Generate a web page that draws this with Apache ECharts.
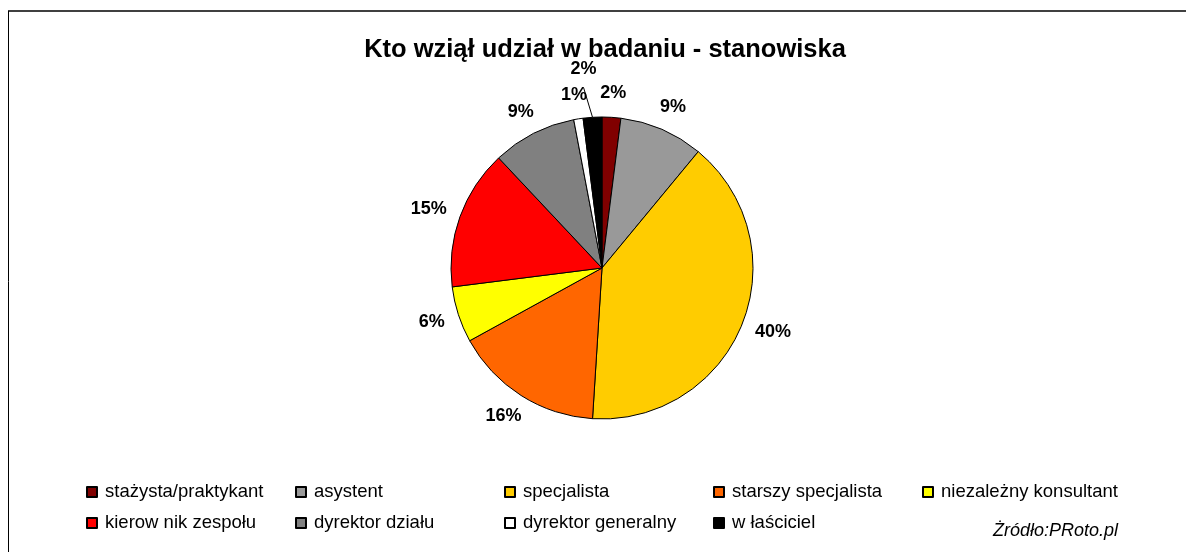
<!DOCTYPE html>
<html>
<head>
<meta charset="utf-8">
<script src="https://cdn.jsdelivr.net/npm/echarts@6/dist/echarts.min.js"></script>
<style>
  html, body { margin: 0; padding: 0; background: #fff; }
  #chart { width: 1186px; height: 552px; }
</style>
</head>
<body>
<div id="chart"></div>
<script>
var categories = ['stażysta/praktykant', 'asystent', 'specjalista', 'starszy specjalista', 'niezależny konsultant',
  'kierow nik zespołu', 'dyrektor działu', 'dyrektor generalny', 'w łaściciel'];
var values = [2, 9, 40, 16, 6, 15, 9, 1, 2];
var colors = ['#800000', '#999999', '#ffcc00', '#ff6600', '#ffff00', '#ff0000', '#808080', '#ffffff', '#000000'];

var chartDom = document.getElementById('chart');
var myChart = echarts.init(chartDom);
var option;

var lastIdx = categories.length - 1;
var pieData = categories.map(function (name, i) {
  var item = { name: name, value: values[i], itemStyle: { color: colors[i] } };
  if (i === lastIdx) {
    // the small black slice keeps a visible leader line
    item.labelLine = { lineStyle: { color: '#000', width: 1, opacity: 1 } };
  }
  return item;
});

option = {
  backgroundColor: '#fff',
  animation: false,
  title: {
    text: 'Kto wziął udział w badaniu - stanowiska',
    left: 600,
    textAlign: 'center',
    top: 32,
    textStyle: { fontFamily: 'Liberation Sans', fontSize: 25.5, fontWeight: 'bold', color: '#000' }
  },
  legend: {
    data: categories,
    left: 81,
    top: 477,
    width: 1080,
    icon: 'rect',
    itemWidth: 10,
    itemHeight: 10,
    itemGap: 11,
    textStyle: { fontFamily: 'Liberation Sans', fontSize: 18.5, color: '#000', width: 179, lineHeight: 20, padding: [0, 0, 0, 3] },
    selectedMode: false
  },
  graphic: [
    { type: 'line', shape: { x1: 8, y1: 11, x2: 1186, y2: 11 }, style: { stroke: '#404040', lineWidth: 2 } },
    { type: 'line', shape: { x1: 8.5, y1: 11, x2: 8.5, y2: 552 }, style: { stroke: '#000', lineWidth: 1 } },
    {
      type: 'text', right: 68, top: 522,
      style: { text: 'Żródło:PRoto.pl', fontFamily: 'Liberation Sans', fontSize: 18, fontStyle: 'italic', fill: '#000' }
    }
  ],
  series: [
    {
      type: 'pie',
      center: [602, 268],
      radius: 151,
      startAngle: 90,
      clockwise: true,
      avoidLabelOverlap: false,
      itemStyle: { borderColor: '#000', borderWidth: 1 },
      label: {
        position: 'outside',
        formatter: '{c}%',
        fontFamily: 'Liberation Sans',
        fontSize: 18,
        fontWeight: 'bold',
        color: '#000'
      },
      labelLine: { show: true, length: 10, length2: 0, lineStyle: { opacity: 0 } },
      // put each label just past the rim on the slice's mid-angle ray, pushed out by its own box
      labelLayout: function (params) {
        var pts = params.labelLinePoints;
        if (!pts) return {};
        var dx = pts[1][0] - pts[0][0];
        var dy = pts[1][1] - pts[0][1];
        var len = Math.sqrt(dx * dx + dy * dy) || 1;
        dx /= len; dy /= len;
        var box = params.labelRect;
        var w = box.width, h = box.height;
        if (params.dataIndex === lastIdx) {
          var cx = pts[0][0] + dx * 48 - 6;
          var cy = pts[0][1] + dy * 48;
          return {
            x: cx, y: cy, align: 'center', verticalAlign: 'middle',
            labelLinePoints: [pts[0], [cx, cy + 18]]
          };
        }
        var g = 15;
        return {
          x: pts[0][0] + dx * g + dx * w / 2,
          y: pts[0][1] + dy * g + dy * h / 2,
          align: 'center',
          verticalAlign: 'middle'
        };
      },
      emphasis: { disabled: true },
      data: pieData
    }
  ]
};

option && myChart.setOption(option);
</script>
</body>
</html>
